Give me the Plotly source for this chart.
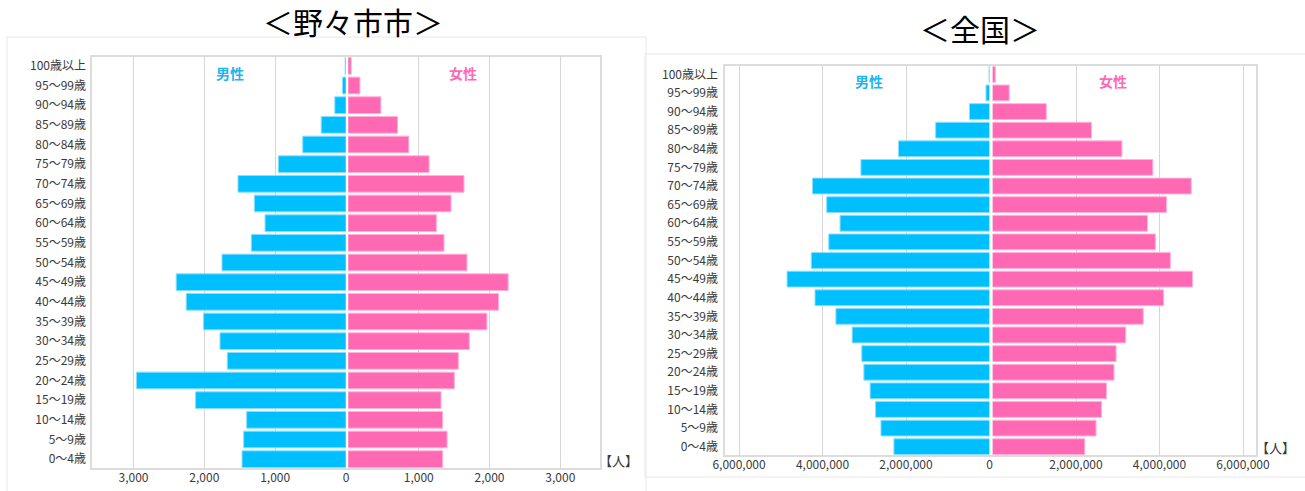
import plotly.graph_objects as go

W, H = 1305, 491

ages = ["0～4歳", "5～9歳", "10～14歳", "15～19歳", "20～24歳", "25～29歳", "30～34歳",
        "35～39歳", "40～44歳", "45～49歳", "50～54歳", "55～59歳", "60～64歳", "65～69歳",
        "70～74歳", "75～79歳", "80～84歳", "85～89歳", "90～94歳", "95～99歳", "100歳以上"]

nonoichi_male = [1468, 1445, 1403, 2124, 2959, 1676, 1779, 2011, 2256, 2397, 1751,
                 1337, 1143, 1294, 1525, 955, 611, 350, 158, 50, 12]
nonoichi_female = [1338, 1400, 1338, 1315, 1503, 1559, 1714, 1963, 2127, 2263, 1681,
                   1357, 1249, 1456, 1639, 1146, 859, 700, 465, 169, 45]

national_male = [2290000, 2600000, 2730000, 2860000, 3010000, 3060000, 3290000, 3680000,
                 4180000, 4850000, 4270000, 3850000, 3580000, 3900000, 4240000, 3080000,
                 2180000, 1290000, 480000, 84000, 12000]
national_female = [2210000, 2480000, 2610000, 2730000, 2910000, 2960000, 3190000, 3610000,
                   4100000, 4790000, 4260000, 3900000, 3710000, 4170000, 4760000, 3840000,
                   3100000, 2370000, 1290000, 400000, 67000]

left_ticks = [0, 1000, 2000, 3000]
left_ticktext = ["0", "1,000", "2,000", "3,000"]
right_ticks = [0, 2000000, 4000000, 6000000]
right_ticktext = ["0", "2,000,000", "4,000,000", "6,000,000"]

MALE = "#00BFFF"
FEMALE = "#FF69B4"
MALE_LINE = "#8ADFFF"
FEMALE_LINE = "#FFB3DA"
GRID = "#d6d6d6"
FRAME = "#dcdcdc"
FONT = "Noto Sans CJK JP"
TXT = "#3a3a3a"


def px(x):
    return x / W


def py(y):
    return 1 - y / H


fig = go.Figure()

fig.add_trace(go.Bar(y=ages, x=nonoichi_male, orientation="h", xaxis="x", yaxis="y",
                     marker=dict(color=MALE, line=dict(color=MALE_LINE, width=1)), showlegend=False))
fig.add_trace(go.Bar(y=ages, x=nonoichi_female, orientation="h", xaxis="x2", yaxis="y",
                     marker=dict(color=FEMALE, line=dict(color=FEMALE_LINE, width=1)), showlegend=False))
fig.add_trace(go.Bar(y=ages, x=national_male, orientation="h", xaxis="x3", yaxis="y2",
                     marker=dict(color=MALE, line=dict(color=MALE_LINE, width=1)), showlegend=False))
fig.add_trace(go.Bar(y=ages, x=national_female, orientation="h", xaxis="x4", yaxis="y2",
                     marker=dict(color=FEMALE, line=dict(color=FEMALE_LINE, width=1)), showlegend=False))

tickfont = dict(family=FONT, size=12, color=TXT)
common_x = dict(showgrid=True, gridcolor=GRID, gridwidth=1, zeroline=True,
                zerolinecolor="rgba(0,0,0,0)", showline=False, ticks="",
                tickfont=tickfont, fixedrange=True, automargin=False)
common_y = dict(type="category", categoryorder="array", categoryarray=ages,
                range=[-0.5, 20.5], showgrid=False, zeroline=False, showline=False,
                ticks="", tickfont=tickfont, fixedrange=True, automargin=False)

L_left, L_mid_m, L_mid_f, L_right, L_top, L_bot = 91, 346, 348, 601, 56, 469
R_left, R_mid_m, R_mid_f, R_right, R_top, R_bot = 724, 989.5, 992.5, 1257, 65, 456

fig.update_layout(
    xaxis=dict(domain=[px(L_left), px(L_mid_m)], range=[3600, 0], anchor="y",
               tickvals=left_ticks, ticktext=left_ticktext, **common_x),
    xaxis2=dict(domain=[px(L_mid_f), px(L_right)], range=[0, 3575], anchor="y",
                tickvals=left_ticks[1:], ticktext=left_ticktext[1:], **common_x),
    xaxis3=dict(domain=[px(R_left), px(R_mid_m)], range=[6360000, 0], anchor="y2",
                tickvals=right_ticks, ticktext=right_ticktext, **common_x),
    xaxis4=dict(domain=[px(R_mid_f), px(R_right)], range=[0, 6335000], anchor="y2",
                tickvals=right_ticks[1:], ticktext=right_ticktext[1:], **common_x),
    yaxis=dict(domain=[py(L_bot), py(L_top)], anchor="x", ticklabelstandoff=4, **common_y),
    yaxis2=dict(domain=[py(R_bot), py(R_top)], anchor="x3", ticklabelstandoff=5, **common_y),
    barmode="overlay",
    bargap=0.15,
    width=W, height=H,
    autosize=False,
    margin=dict(l=0, r=0, t=0, b=0, pad=0, autoexpand=False),
    paper_bgcolor="white", plot_bgcolor="white",
    font=dict(family=FONT),
    hovermode=False,
)

shapes = []
shapes.append(dict(type="rect", xref="paper", yref="paper",
                   x0=px(7), x1=px(646), y0=py(500), y1=py(37),
                   line=dict(color="#e8e8e8", width=1), layer="below"))
shapes.append(dict(type="rect", xref="paper", yref="paper",
                   x0=px(645), x1=px(1310), y0=py(477), y1=py(54),
                   line=dict(color="#e8e8e8", width=1), layer="below"))
shapes.append(dict(type="rect", xref="paper", yref="paper",
                   x0=px(L_left), x1=px(L_right), y0=py(L_bot), y1=py(L_top),
                   line=dict(color=FRAME, width=2), layer="below"))
shapes.append(dict(type="rect", xref="paper", yref="paper",
                   x0=px(R_left), x1=px(R_right), y0=py(R_bot), y1=py(R_top),
                   line=dict(color=FRAME, width=2), layer="below"))
fig.update_layout(shapes=shapes)


def label(text, x, y, font):
    return dict(text=text, x=px(x), y=py(y), xref="paper", yref="paper",
                xanchor="center", yanchor="middle", showarrow=False, font=font)


sexfont_m = dict(family=FONT, size=14, color="#1AB6F0")
sexfont_f = dict(family=FONT, size=14, color="#FF69B4")
unitfont = dict(family=FONT, size=13, color=TXT)
titlefont = dict(family=FONT, size=30, color="black")
ann = [
    label("＜野々市市＞", 353, 21, titlefont),
    label("＜全国＞", 980, 28, titlefont),
    label("<b>男性</b>", 230, 73, sexfont_m),
    label("<b>女性</b>", 463, 73, sexfont_f),
    label("<b>男性</b>", 869, 81, sexfont_m),
    label("<b>女性</b>", 1113, 81, sexfont_f),
    label("【人】", 618, 460, unitfont),
    label("【人】", 1275, 447, unitfont),
]
fig.update_layout(annotations=ann)

fig.write_html("out.html", config={"displayModeBar": False},
               post_script="document.body.style.margin='0';")
